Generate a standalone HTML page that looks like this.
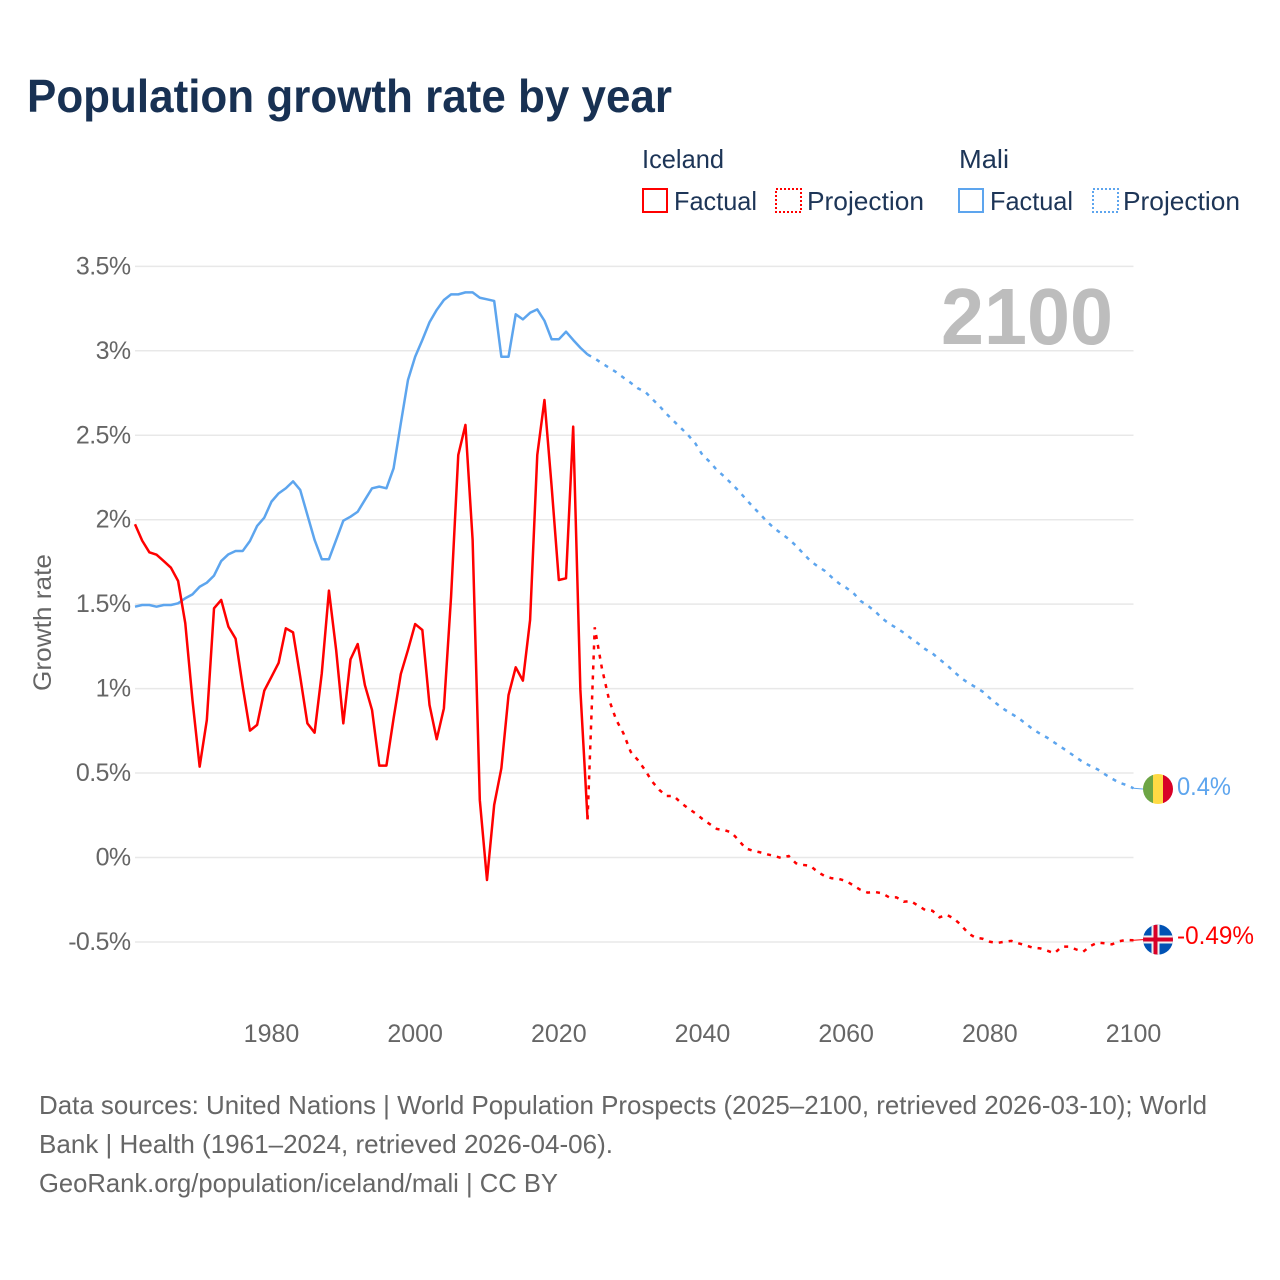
<!DOCTYPE html>
<html lang="en">
<head>
<meta charset="utf-8">
<title>Population growth rate by year</title>
<style>
  html, body { margin: 0; padding: 0; background: #fff; }
  svg { display: block; }
  text { font-family: "Liberation Sans", sans-serif; }
</style>
</head>
<body>
<svg id="chart" xmlns="http://www.w3.org/2000/svg" width="1280" height="1280" viewBox="0 0 1280 1280">
  <rect x="0" y="0" width="1280" height="1280" fill="#fff"/>
  <text x="27" y="112" font-size="46" font-weight="700" fill="#183153" textLength="645" lengthAdjust="spacingAndGlyphs">Population growth rate by year</text>

  <g font-size="26" fill="#1d3557">
    <text x="642" y="168" textLength="82" lengthAdjust="spacingAndGlyphs">Iceland</text>
    <text x="959" y="168" textLength="50" lengthAdjust="spacingAndGlyphs">Mali</text>
    <rect x="643" y="189" width="24" height="23" fill="none" stroke="#ff0000" stroke-width="2"/>
    <text x="674" y="210" textLength="83" lengthAdjust="spacingAndGlyphs">Factual</text>
    <rect x="776" y="189" width="25" height="23" fill="none" stroke="#ff0000" stroke-width="2" stroke-dasharray="2 2"/>
    <text x="807" y="210" textLength="117" lengthAdjust="spacingAndGlyphs">Projection</text>
    <rect x="959" y="189" width="24" height="23" fill="none" stroke="#5DA5EE" stroke-width="2"/>
    <text x="990" y="210" textLength="83" lengthAdjust="spacingAndGlyphs">Factual</text>
    <rect x="1093" y="189" width="25" height="23" fill="none" stroke="#5DA5EE" stroke-width="2" stroke-dasharray="2 2"/>
    <text x="1123" y="210" textLength="117" lengthAdjust="spacingAndGlyphs">Projection</text>
  </g>

  <text transform="translate(51 691) rotate(-90)" font-size="25" fill="#666" textLength="137" lengthAdjust="spacingAndGlyphs">Growth rate</text>

  <g id="grid"></g>
  <g id="yticks"></g>
  <g id="xticks"></g>

  <text x="941" y="344" font-size="80" font-weight="700" fill="#bdbdbd" textLength="172" lengthAdjust="spacingAndGlyphs">2100</text>

  <g id="series"></g>

  <g>
    <clipPath id="mali-clip"><circle cx="1158" cy="789" r="15"/></clipPath>
    <g clip-path="url(#mali-clip)">
      <rect x="1143" y="774" width="10" height="30" fill="#6DA544"/>
      <rect x="1153" y="774" width="10" height="30" fill="#FFDA44"/>
      <rect x="1163" y="774" width="10" height="30" fill="#D80027"/>
    </g>
  </g>
  <g>
    <clipPath id="iceland-clip"><circle cx="1158" cy="939.6" r="15"/></clipPath>
    <g clip-path="url(#iceland-clip)">
      <rect x="1143" y="924" width="30" height="31" fill="#0052B4"/>
      <rect x="1151.5" y="924" width="8" height="31" fill="#F0F0F0"/>
      <rect x="1143" y="935.5" width="30" height="8" fill="#F0F0F0"/>
      <rect x="1153.5" y="924" width="4" height="31" fill="#D80027"/>
      <rect x="1143" y="937.5" width="30" height="4" fill="#D80027"/>
    </g>
  </g>

  <text x="1177" y="795" font-size="25" fill="#5DA5EE" textLength="54" lengthAdjust="spacingAndGlyphs">0.4%</text>
  <text x="1177" y="944" font-size="25" fill="#ff0000" textLength="77" lengthAdjust="spacingAndGlyphs">-0.49%</text>

  <g font-size="26" fill="#666">
    <text x="39" y="1114" textLength="1168" lengthAdjust="spacingAndGlyphs">Data sources: United Nations | World Population Prospects (2025–2100, retrieved 2026-03-10); World</text>
    <text x="39" y="1153" textLength="574" lengthAdjust="spacingAndGlyphs">Bank | Health (1961–2024, retrieved 2026-04-06).</text>
    <text x="39" y="1192" textLength="519" lengthAdjust="spacingAndGlyphs">GeoRank.org/population/iceland/mali | CC BY</text>
  </g>
</svg>
<script>
const yTickValues = [-0.5, 0, 0.5, 1, 1.5, 2, 2.5, 3, 3.5];
const yTickLabels = ["-0.5%", "0%", "0.5%", "1%", "1.5%", "2%", "2.5%", "3%", "3.5%"];
const xTickYears = [1980, 2000, 2020, 2040, 2060, 2080, 2100];
const xTickLabels = ["1980", "2000", "2020", "2040", "2060", "2080", "2100"];
const factualStartYear = 1961;
const projectionStartYear = 2024;

const icelandFactual = [
  1.973,1.876,1.807,1.793,1.755,1.716,1.637,1.387,0.932,
  0.538,0.814,1.475,1.525,1.367,1.296,1.011,0.751,0.785,0.988,
  1.07,1.153,1.357,1.333,1.07,0.794,0.739,1.09,1.58,1.229,
  0.794,1.173,1.264,1.021,0.873,0.544,0.544,0.824,1.086,1.229,
  1.382,1.347,0.903,0.70,0.883,1.544,2.383,2.561,1.88,0.34,
  -0.133,0.311,0.528,0.962,1.126,1.047,1.406,2.383,2.709,2.196,
  1.643,1.653,2.551,0.992,0.226
];
const icelandProjection = [
  0.226,1.363,1.12,0.933,0.814,0.735,
  0.626,0.577,0.518,0.449,0.40,0.364,0.364,0.324,0.291,0.262,
  0.228,0.198,0.169,0.163,0.149,0.104,0.054,0.04,0.031,0.019,
  0.009,-0.003,0.009,-0.034,-0.044,-0.049,-0.084,-0.11,-0.123,-0.127,
  -0.14,-0.165,-0.192,-0.208,-0.204,-0.212,-0.236,-0.236,-0.262,-0.258,
  -0.285,-0.311,-0.315,-0.354,-0.339,-0.362,-0.40,-0.449,-0.475,-0.481,
  -0.499,-0.506,-0.499,-0.494,-0.508,-0.52,-0.534,-0.538,-0.552,-0.567,
  -0.528,-0.528,-0.544,-0.558,-0.524,-0.504,-0.508,-0.514,-0.496,-0.488,
  -0.49
];
const maliFactual = [
  1.485,1.495,1.495,1.485,1.495,1.495,1.505,1.535,1.558,
  1.603,1.627,1.669,1.755,1.795,1.815,1.815,1.874,1.963,2.012,
  2.107,2.156,2.186,2.227,2.176,2.028,1.88,1.766,1.766,1.88,
  1.994,2.018,2.047,2.117,2.186,2.196,2.186,2.304,2.57,2.827,
  2.965,3.064,3.169,3.242,3.301,3.334,3.334,3.346,3.346,3.314,
  3.305,3.295,2.965,2.965,3.216,3.186,3.225,3.245,3.178,3.068,
  3.068,3.113,3.064,3.018,2.978
];
const maliProjection = [
  2.978,2.955,2.926,2.90,2.873,2.841,
  2.811,2.778,2.758,2.715,2.673,2.626,2.584,2.543,2.501,2.452,
  2.383,2.343,2.294,2.257,2.215,2.172,2.124,2.077,2.034,1.988,
  1.949,1.917,1.886,1.846,1.801,1.757,1.725,1.698,1.659,1.623,
  1.597,1.566,1.519,1.491,1.459,1.416,1.384,1.359,1.331,1.298,
  1.268,1.234,1.209,1.173,1.14,1.10,1.063,1.033,1.009,0.982,
  0.943,0.909,0.877,0.851,0.826,0.792,0.759,0.733,0.709,0.68,
  0.652,0.623,0.593,0.564,0.542,0.522,0.493,0.467,0.443,0.429,
  0.41
];

const NS = "http://www.w3.org/2000/svg";
const xScale = year => 135 + (year - 1961) * (1133.5 - 135) / (2100 - 1961);
const yScale = value => 857.5 - value * 168.9;

function make(tag, attrs, parent) {
  const el = document.createElementNS(NS, tag);
  Object.keys(attrs).forEach(k => el.setAttribute(k, attrs[k]));
  parent.appendChild(el);
  return el;
}

function pathFor(values, startYear) {
  return values.map((v, i) =>
    (i ? "L" : "M") + xScale(startYear + i).toFixed(2) + " " + yScale(v).toFixed(2)
  ).join(" ");
}

const gridGroup = document.getElementById("grid");
const yTickGroup = document.getElementById("yticks");
const xTickGroup = document.getElementById("xticks");
const seriesGroup = document.getElementById("series");

yTickValues.forEach((v, i) => {
  const line = make("line", {
    x1: 135, x2: 1133.5, y1: yScale(v), y2: yScale(v),
    stroke: "#e8e8e8", "stroke-width": 1.5
  }, gridGroup);
  
  

  const label = make("text", {
    x: 130.5, y: yScale(v) + 8, "text-anchor": "end",
    "font-size": 25, fill: "#666", "letter-spacing": "-0.6"
  }, yTickGroup);
  label.textContent = yTickLabels[i];
  
  
});

xTickYears.forEach((year, i) => {
  const label = make("text", {
    x: xScale(year), y: 1042, "text-anchor": "middle",
    "font-size": 25, fill: "#666"
  }, xTickGroup);
  label.textContent = xTickLabels[i];
  
  
});

const maliFactualLine = make("path", {
  d: pathFor(maliFactual, factualStartYear), fill: "none", stroke: "#5DA5EE",
  "stroke-width": 2.5, "stroke-linejoin": "round"
}, seriesGroup);



const maliProjectionLine = make("path", {
  d: pathFor(maliProjection, projectionStartYear), fill: "none", stroke: "#5DA5EE",
  "stroke-width": 2.5, "stroke-dasharray": "4 6"
}, seriesGroup);



const icelandFactualLine = make("path", {
  d: pathFor(icelandFactual, factualStartYear), fill: "none", stroke: "#ff0000",
  "stroke-width": 2.5, "stroke-linejoin": "round"
}, seriesGroup);



const icelandProjectionLine = make("path", {
  d: pathFor(icelandProjection, projectionStartYear), fill: "none", stroke: "#ff0000",
  "stroke-width": 2.5, "stroke-dasharray": "4 6"
}, seriesGroup);



const maliEnd = maliProjection[maliProjection.length - 1];
const maliConnector = make("line", {
  x1: xScale(2100), x2: 1143, y1: yScale(maliEnd), y2: 789,
  stroke: "#5DA5EE", "stroke-width": 1
}, seriesGroup);



const icelandEnd = icelandProjection[icelandProjection.length - 1];
const icelandConnector = make("line", {
  x1: xScale(2100), x2: 1143, y1: yScale(icelandEnd), y2: 939.6,
  stroke: "#ff0000", "stroke-width": 1
}, seriesGroup);


</script>
</body>
</html>
